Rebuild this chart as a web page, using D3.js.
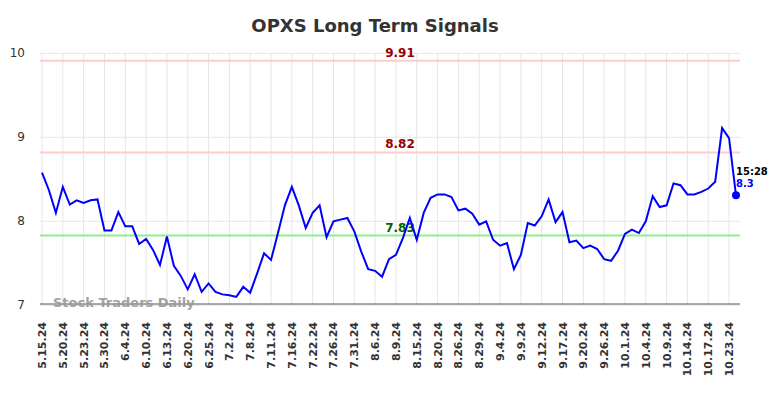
<!DOCTYPE html>
<html>
<head>
<meta charset="utf-8">
<script src="https://cdn.jsdelivr.net/npm/d3@7"></script>
<style>
  body { margin: 0; background: #fff; }
  svg { font-family: "DejaVu Sans", sans-serif; }
</style>
</head>
<body>
<svg id="chart"></svg>
<script>
// closing prices, one per session
const prices = [
  8.58, 8.37, 8.10, 8.41, 8.20, 8.25, 8.22, 8.25, 8.26, 7.89,
  7.89, 8.11, 7.94, 7.94, 7.73, 7.79, 7.66, 7.48, 7.82, 7.47,
  7.35, 7.19, 7.37, 7.16, 7.26, 7.16, 7.13, 7.12, 7.10, 7.22,
  7.15, 7.38, 7.62, 7.54, 7.86, 8.19, 8.41, 8.19, 7.92, 8.10,
  8.19, 7.81, 8.00, 8.02, 8.04, 7.88, 7.64, 7.43, 7.41, 7.34,
  7.55, 7.60, 7.80, 8.04, 7.78, 8.10, 8.28, 8.32, 8.32, 8.29,
  8.13, 8.15, 8.09, 7.96, 8.00, 7.78, 7.71, 7.74, 7.43, 7.60,
  7.98, 7.95, 8.06, 8.26, 7.99, 8.11, 7.75, 7.77, 7.68, 7.71,
  7.67, 7.55, 7.53, 7.65, 7.85, 7.90, 7.86, 8.00, 8.30, 8.17,
  8.19, 8.45, 8.43, 8.32, 8.32, 8.35, 8.39, 8.47, 9.11, 8.99,
  8.31
];
// one label every third session
const tickLabels = [
  '5.15.24', '5.20.24', '5.23.24', '5.30.24', '6.4.24', '6.10.24', '6.13.24',
  '6.20.24', '6.25.24', '7.2.24', '7.8.24', '7.11.24', '7.16.24', '7.22.24',
  '7.26.24', '7.31.24', '8.6.24', '8.9.24', '8.15.24', '8.20.24', '8.26.24',
  '8.29.24', '9.4.24', '9.9.24', '9.12.24', '9.17.24', '9.20.24', '9.26.24',
  '10.1.24', '10.4.24', '10.9.24', '10.14.24', '10.17.24', '10.23.24'
];
const yTicks = [7, 8, 9, 10];
const levels = [
  {value: 9.91, line: '#ffcccc', text: '#990000'},
  {value: 8.82, line: '#ffcccc', text: '#990000'},
  {value: 7.83, line: '#90ee90', text: '#006400'}
];
const lastTime = '15:28';
const lastLabel = '8.3';

const width = 784, height = 398;
const svg = d3.select('#chart').attr('width', width).attr('height', height);

const x = d3.scaleLinear().domain([0, prices.length - 1]).range([42, 736]);
const y = d3.scaleLinear().domain([7, 10]).range([305.3, 53.3]);
const plotLeft = 40, plotRight = 740;

// title
svg.append('text')
  .attr('x', 375).attr('y', 32)
  .attr('text-anchor', 'middle')
  .attr('font-size', '18px').attr('font-weight', 'bold')
  .attr('fill', '#333')
  .text('OPXS Long Term Signals');

// grid
const tickIdx = tickLabels.map((d, i) => i * 3);
svg.append('g').selectAll('line')
  .data(tickIdx)
  .join('line')
  .attr('x1', d => x(d)).attr('x2', d => x(d))
  .attr('y1', y(10)).attr('y2', y(7))
  .attr('stroke', '#e6e6e6').attr('stroke-width', 1);

svg.append('g').selectAll('line')
  .data(yTicks)
  .join('line')
  .attr('x1', plotLeft).attr('x2', plotRight)
  .attr('y1', d => y(d)).attr('y2', d => y(d))
  .attr('stroke', '#e6e6e6').attr('stroke-width', 1);

// y axis labels
svg.append('g').selectAll('text')
  .data(yTicks)
  .join('text')
  .attr('x', 25).attr('y', d => y(d) + 4)
  .attr('text-anchor', 'end')
  .attr('font-size', '12px')
  .attr('fill', '#333')
  .text(d => d);

// bottom axis line
svg.append('line')
  .attr('x1', plotLeft).attr('x2', plotRight)
  .attr('y1', 304).attr('y2', 304)
  .attr('stroke', '#555').attr('stroke-width', 1);

// x labels
svg.append('g').selectAll('text')
  .data(tickLabels)
  .join('text')
  .attr('transform', (d, i) => `translate(${x(i * 3) + 4}, 322) rotate(-90)`)
  .attr('text-anchor', 'end')
  .attr('font-size', '11px').attr('font-weight', 'bold')
  .attr('fill', '#333')
  .text(d => d);

// watermark
svg.append('text')
  .attr('x', 53).attr('y', 307)
  .attr('font-size', '13px').attr('font-weight', 'bold')
  .attr('fill', '#999').attr('opacity', 0.9)
  .text('Stock Traders Daily');

// signal levels
levels.forEach(l => {
  svg.append('line')
    .attr('x1', plotLeft).attr('x2', plotRight)
    .attr('y1', y(l.value)).attr('y2', y(l.value))
    .attr('stroke', l.line).attr('stroke-width', 2);
  svg.append('text')
    .attr('x', 400).attr('y', y(l.value) - 4)
    .attr('text-anchor', 'middle')
    .attr('font-size', '12px').attr('font-weight', 'bold')
    .attr('fill', l.text)
    .text(l.value.toFixed(2));
});

// price line
const line = d3.line()
  .x((d, i) => x(i))
  .y(d => y(d));

svg.append('path')
  .datum(prices)
  .attr('d', line)
  .attr('fill', 'none')
  .attr('stroke', '#0000ff')
  .attr('stroke-width', 2);

// last point
const lastI = prices.length - 1;
svg.append('circle')
  .attr('cx', x(lastI)).attr('cy', y(prices[lastI]))
  .attr('r', 4).attr('fill', '#0000ff');

svg.append('text')
  .attr('x', x(lastI)).attr('y', y(prices[lastI]) - 20)
  .attr('font-size', '10px').attr('font-weight', 'bold')
  .attr('fill', '#000')
  .text(lastTime);
svg.append('text')
  .attr('x', x(lastI)).attr('y', y(prices[lastI]) - 8)
  .attr('font-size', '10px').attr('font-weight', 'bold')
  .attr('fill', '#0000ff')
  .text(lastLabel);
</script>
</body>
</html>
